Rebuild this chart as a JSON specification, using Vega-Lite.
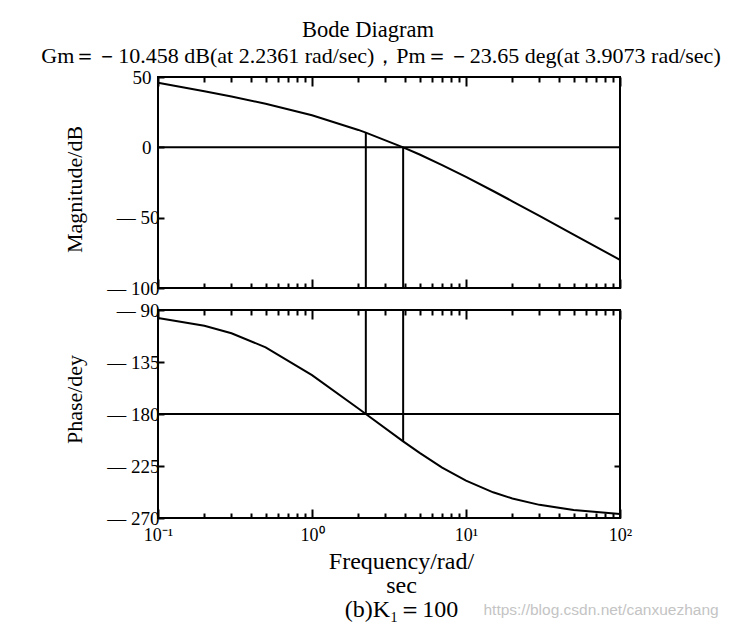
{
  "$schema": "https://vega.github.io/schema/vega-lite/v6.json",
  "padding": {"left": 40, "top": 18, "right": 5, "bottom": 5},
  "background": "#ffffff",
  "bounds": "flush",
  "spacing": 22,
  "title": {
    "text": "Bode Diagram",
    "anchor": "middle",
    "font": "Liberation Serif",
    "fontSize": 22.5,
    "fontWeight": "normal",
    "color": "#000000",
    "offset": 3,
    "dx": -13
  },
  "config": {
    "font": "Liberation Serif",
    "view": {"stroke": "#000000", "strokeWidth": 2},
    "axis": {
      "grid": false,
      "domain": false,
      "tickColor": "#000000",
      "tickWidth": 2,
      "labelColor": "#000000",
      "titleColor": "#000000",
      "labelFont": "Liberation Serif",
      "titleFont": "Liberation Serif",
      "titleFontWeight": "normal",
      "labelFontSize": 19,
      "titleFontSize": 22,
      "labelFlush": false,
      "labelOverlap": false,
      "labelBound": false
    }
  },
  "datasets": {
    "bode": [
      {"w": 0.1, "mag": 45.98, "phase": -96.86},
      {"w": 0.2, "mag": 39.82, "phase": -103.6},
      {"w": 0.3, "mag": 36.09, "phase": -110.13},
      {"w": 0.5, "mag": 31.03, "phase": -122.28},
      {"w": 1, "mag": 22.84, "phase": -146.31},
      {"w": 2, "mag": 12.37, "phase": -175.24},
      {"w": 2.2361, "mag": 10.458, "phase": -180},
      {"w": 3.9073, "mag": 0, "phase": -203.65},
      {"w": 5, "mag": -5.12, "phase": -213.69},
      {"w": 7, "mag": -12.58, "phase": -226.33},
      {"w": 10, "mag": -21.01, "phase": -237.72},
      {"w": 15, "mag": -31.04, "phase": -247.76},
      {"w": 20, "mag": -38.34, "phase": -253.1},
      {"w": 30, "mag": -48.75, "phase": -258.63},
      {"w": 50, "mag": -61.98, "phase": -263.14},
      {"w": 100, "mag": -80.01, "phase": -266.57}
    ],
    "hzero": [{"v": 0}],
    "h180": [{"v": -180}],
    "vtop": [
      {"w": 2.2361, "lo": -100, "hi": 10.458},
      {"w": 3.9073, "lo": -100, "hi": 0}
    ],
    "vbot": [
      {"w": 2.2361, "lo": -90, "hi": -180},
      {"w": 3.9073, "lo": -90, "hi": -203.65}
    ]
  },
  "vconcat": [
    {
      "width": 462,
      "height": 211,
      "title": {
        "text": "Gm＝－10.458 dB(at 2.2361 rad/sec)，Pm＝－23.65 deg(at 3.9073 rad/sec)",
        "anchor": "middle",
        "font": "Liberation Serif",
        "fontSize": 22,
        "fontWeight": "normal",
        "color": "#000000",
        "offset": 0,
        "dx": -8
      },
      "layer": [
        {
          "data": {"name": "bode"},
          "mark": {"type": "line", "color": "#000000", "strokeWidth": 2},
          "encoding": {
            "x": {
              "field": "w", "type": "quantitative",
              "scale": {"type": "log", "domain": [0.1, 100], "nice": false},
              "axis": {
                "orient": "bottom", "title": null, "labels": false,
                "values": [0.1,0.2,0.3,0.4,0.5,0.6,0.7,0.8,0.9,1,2,3,4,5,6,7,8,9,10,20,30,40,50,60,70,80,90,100],
                "tickSize": {"condition": {"test": "indexof([0.1,1,10,100], datum.value) >= 0", "value": -9}, "value": -5}
              }
            },
            "y": {
              "field": "mag", "type": "quantitative",
              "scale": {"domain": [-100, 50], "nice": false, "zero": false},
              "axis": {
                "orient": "left", "title": "Magnitude/dB", "values": [50, 0, -50, -100],
                "labelExpr": "datum.value < 0 ? '— ' + abs(datum.value) : '' + datum.value",
                "tickSize": -6,
                "labelPadding": {"condition": {"test": "datum.value >= 0", "value": 13}, "value": 5},
                "titlePadding": 20,
                "titleY": 112
              }
            }
          }
        },
        {
          "data": {"name": "hzero"},
          "mark": {"type": "rule", "color": "#000000", "strokeWidth": 2},
          "encoding": {"y": {"field": "v", "type": "quantitative", "axis": null}}
        },
        {
          "data": {"name": "vtop"},
          "mark": {"type": "rule", "color": "#000000", "strokeWidth": 2},
          "encoding": {
            "x": {
              "field": "w", "type": "quantitative",
              "axis": {
                "orient": "top", "title": null, "labels": false,
                "values": [0.1,0.2,0.3,0.4,0.5,0.6,0.7,0.8,0.9,1,2,3,4,5,6,7,8,9,10,20,30,40,50,60,70,80,90,100],
                "tickSize": {"condition": {"test": "indexof([0.1,1,10,100], datum.value) >= 0", "value": -9}, "value": -5}
              }
            },
            "y": {
              "field": "lo", "type": "quantitative",
              "axis": {"orient": "right", "title": null, "labels": false, "values": [-50], "tickSize": -6}
            },
            "y2": {"field": "hi"}
          }
        }
      ],
      "resolve": {"axis": {"x": "independent", "y": "independent"}}
    },
    {
      "width": 462,
      "height": 208,
      "title": {
        "text": "https://blog.csdn.net/canxuezhang",
        "orient": "bottom",
        "anchor": "end",
        "font": "Liberation Sans",
        "fontSize": 15.5,
        "fontWeight": "normal",
        "color": "#c4c4c4",
        "dx": 87,
        "dy": -22
      },
      "layer": [
        {
          "data": {"name": "bode"},
          "mark": {"type": "line", "color": "#000000", "strokeWidth": 2},
          "encoding": {
            "x": {
              "field": "w", "type": "quantitative",
              "scale": {"type": "log", "domain": [0.1, 100], "nice": false},
              "axis": {
                "orient": "bottom",
                "title": ["Frequency/rad/", "sec", "(b)K₁＝100"],
                "titleFontSize": 24,
                "titleLineHeight": 24,
                "titlePadding": 1,
                "titleX": 243,
                "labelFontSize": 18,
                "values": [0.1,0.2,0.3,0.4,0.5,0.6,0.7,0.8,0.9,1,2,3,4,5,6,7,8,9,10,20,30,40,50,60,70,80,90,100],
                "labelExpr": "datum.value == 0.1 ? '10⁻¹' : datum.value == 1 ? '10⁰' : datum.value == 10 ? '10¹' : datum.value == 100 ? '10²' : ''",
                "tickSize": {"condition": {"test": "indexof([0.1,1,10,100], datum.value) >= 0", "value": -9}, "value": -5},
                "labelPadding": 17
              }
            },
            "y": {
              "field": "phase", "type": "quantitative",
              "scale": {"domain": [-270, -90], "nice": false, "zero": false},
              "axis": {
                "orient": "left", "title": "Phase/dey", "values": [-90, -135, -180, -225, -270],
                "labelExpr": "'— ' + abs(datum.value)",
                "tickSize": -6, "labelPadding": 5, "titlePadding": 20,
                "titleY": 89
              }
            }
          }
        },
        {
          "data": {"name": "h180"},
          "mark": {"type": "rule", "color": "#000000", "strokeWidth": 2},
          "encoding": {"y": {"field": "v", "type": "quantitative", "axis": null}}
        },
        {
          "data": {"name": "vbot"},
          "mark": {"type": "rule", "color": "#000000", "strokeWidth": 2},
          "encoding": {
            "x": {
              "field": "w", "type": "quantitative",
              "axis": {
                "orient": "top", "title": null, "labels": false,
                "values": [0.1,0.2,0.3,0.4,0.5,0.6,0.7,0.8,0.9,1,2,3,4,5,6,7,8,9,10,20,30,40,50,60,70,80,90,100],
                "tickSize": {"condition": {"test": "indexof([0.1,1,10,100], datum.value) >= 0", "value": -9}, "value": -5}
              }
            },
            "y": {
              "field": "lo", "type": "quantitative",
              "axis": {"orient": "right", "title": null, "labels": false, "values": [-225], "tickSize": -6}
            },
            "y2": {"field": "hi"}
          }
        }
      ],
      "resolve": {"axis": {"x": "independent", "y": "independent"}}
    }
  ]
}
